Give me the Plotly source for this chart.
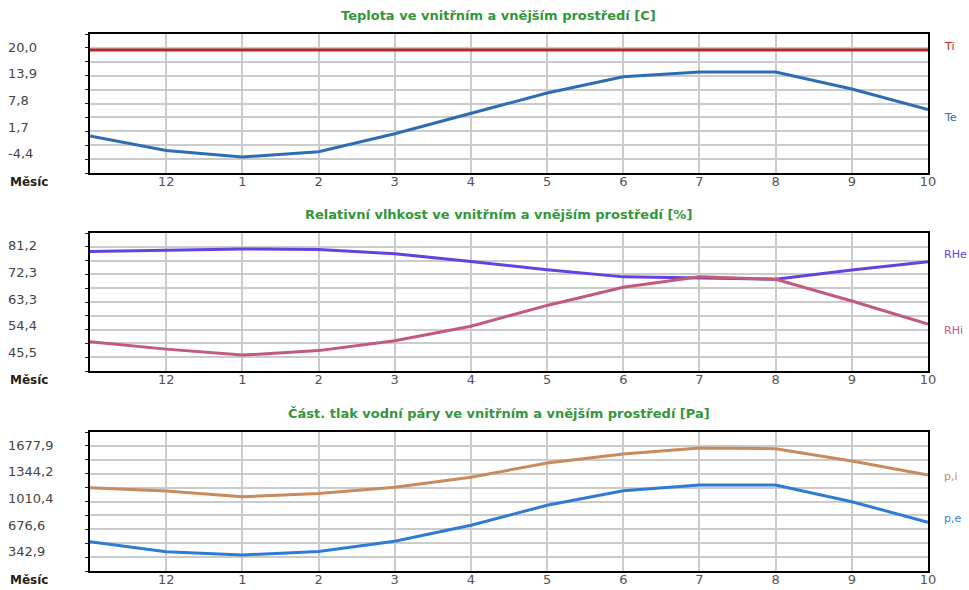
import plotly.graph_objects as go

# Month axis: positions 0..11 run from November to the following October
month_pos = [0, 1, 2, 3, 4, 5, 6, 7, 8, 9, 10, 11]
month_tick_pos = [1, 2, 3, 4, 5, 6, 7, 8, 9, 10, 11]
month_tick_text = ["12", "1", "2", "3", "4", "5", "6", "7", "8", "9", "10"]

# Temperature [C]
t_int = [20.0, 20.0, 20.0, 20.0, 20.0, 20.0, 20.0, 20.0, 20.0, 20.0, 20.0, 20.0]
t_ext = [0.4, -2.9, -4.4, -3.2, 0.9, 5.5, 10.2, 13.9, 15.0, 15.0, 11.1, 6.4]
t_ticks = [20.0, 13.9, 7.8, 1.7, -4.4]

# Relative humidity [%]
rh_ext = [80.3, 80.7, 81.2, 81.0, 79.6, 77.0, 74.2, 71.8, 71.3, 71.0, 74.1, 76.9]
rh_int = [50.0, 47.5, 45.5, 47.0, 50.3, 55.2, 62.2, 68.3, 71.8, 71.0, 63.7, 55.9]
rh_ticks = [81.2, 72.3, 63.3, 54.4, 45.5]

# Partial water vapour pressure [Pa]
p_int = [1182.7, 1141.5, 1070.3, 1110.3, 1187.7, 1312.5, 1491.0, 1603.5, 1677.9, 1670.0, 1516.0, 1341.0]
p_ext = [508.4, 383.6, 342.9, 386.0, 513.4, 713.0, 963.0, 1145.0, 1216.0, 1216.0, 1008.0, 750.6]
p_ticks = [1677.9, 1344.2, 1010.4, 676.6, 342.9]

titles = [
    "Teplota ve vnitřním a vnějším prostředí [C]",
    "Relativní vlhkost ve vnitřním a vnějším prostředí [%]",
    "Část. tlak vodní páry ve vnitřním a vnějším prostředí [Pa]",
]

W, H = 969, 590
ML, MR, MT, MB = 90, 41, 34, 19
PLOT_H = H - MT - MB
# top / bottom pixel rows of each panel
panel_px = [(34, 173), (233, 371), (432, 571)]

FONT = "DejaVu Sans"
GRID = "#cbcbcb"

panels = [
    dict(series=[("Ti", t_int, "#b02a2a", 4), ("Te", t_ext, "#2c6db3", -8)], ticks=t_ticks),
    dict(series=[("RHe", rh_ext, "#6442e0", 7), ("RHi", rh_int, "#c25a78", -6)], ticks=rh_ticks),
    dict(series=[("p,i", p_int, "#c98a5c", -1), ("p,e", p_ext, "#2f7bd4", 4)], ticks=p_ticks),
]

fig = go.Figure()
annotations = []

for n, panel in enumerate(panels, start=1):
    sfx = "" if n == 1 else str(n)
    xa, ya = "x" + sfx, "y" + sfx
    top_px, bot_px = panel_px[n - 1]
    dom = [(H - MB - bot_px) / PLOT_H, (H - MB - top_px) / PLOT_H]

    lo_t, hi_t = min(panel["ticks"]), max(panel["ticks"])
    pad = 0.15 * (hi_t - lo_t)
    lo, hi = lo_t - pad, hi_t + pad
    grid_vals = [lo + k * (hi - lo) / 10 for k in range(11)]

    for name, vals, color, dy in panel["series"]:
        fig.add_trace(go.Scatter(
            x=month_pos, y=vals, mode="lines", name=name,
            line=dict(color=color, width=3),
            xaxis=xa, yaxis=ya, showlegend=False, hoverinfo="skip",
        ))
        annotations.append(dict(
            text=name, xref=xa + " domain", yref=ya, x=1, y=vals[-1],
            xanchor="left", yanchor="middle", xshift=14, yshift=dy,
            showarrow=False, font=dict(family=FONT, size=11, color=color),
        ))

    fig.update_layout({
        ("xaxis" + sfx): dict(
            domain=[0, 1], anchor=ya, range=[0, 11], automargin=False,
            tickmode="array", tickvals=month_tick_pos, ticktext=month_tick_text,
            showgrid=True, gridcolor=GRID, gridwidth=1.5, zeroline=False,
            showline=True, linecolor="black", linewidth=2, mirror=True,
            ticks="", ticklabelstandoff=-5,
            tickfont=dict(family=FONT, size=13, color="#555555"),
            fixedrange=True,
        ),
        ("yaxis" + sfx): dict(
            domain=dom, anchor=xa, range=[lo, hi], automargin=False,
            tickmode="array", tickvals=grid_vals, showticklabels=False,
            showgrid=True, gridcolor=GRID, gridwidth=1.5, zeroline=False,
            showline=True, linecolor="black", linewidth=2, mirror=True,
            ticks="outside", ticklen=3, tickcolor="#222222",
            fixedrange=True,
        ),
    })

    # value labels on the left
    for v in panel["ticks"]:
        annotations.append(dict(
            text=f"{v:.1f}".replace(".", ","), xref=xa + " domain", yref=ya,
            x=0, y=v, xanchor="left", yanchor="middle", xshift=-84, yshift=3,
            showarrow=False, font=dict(family=FONT, size=13, color="#444444"),
        ))

    # axis caption
    annotations.append(dict(
        text="<b>Měsíc</b>", xref=xa + " domain", yref=ya + " domain",
        x=0, y=0, xanchor="left", yanchor="middle", xshift=-82, yshift=-9,
        showarrow=False, font=dict(family=FONT, size=12, color="#222222"),
    ))

    # panel title
    annotations.append(dict(
        text="<b>" + titles[n - 1] + "</b>", xref=xa + " domain", yref=ya + " domain",
        x=0.488, y=1, xanchor="center", yanchor="middle", yshift=19,
        showarrow=False, font=dict(family=FONT, size=13, color="#33963a"),
    ))

fig.update_layout(
    width=W, height=H,
    margin=dict(l=ML, r=MR, t=MT, b=MB, autoexpand=False),
    paper_bgcolor="white", plot_bgcolor="white",
    annotations=annotations,
    showlegend=False,
)

fig.write_html("out.html", config={"displayModeBar": False})
